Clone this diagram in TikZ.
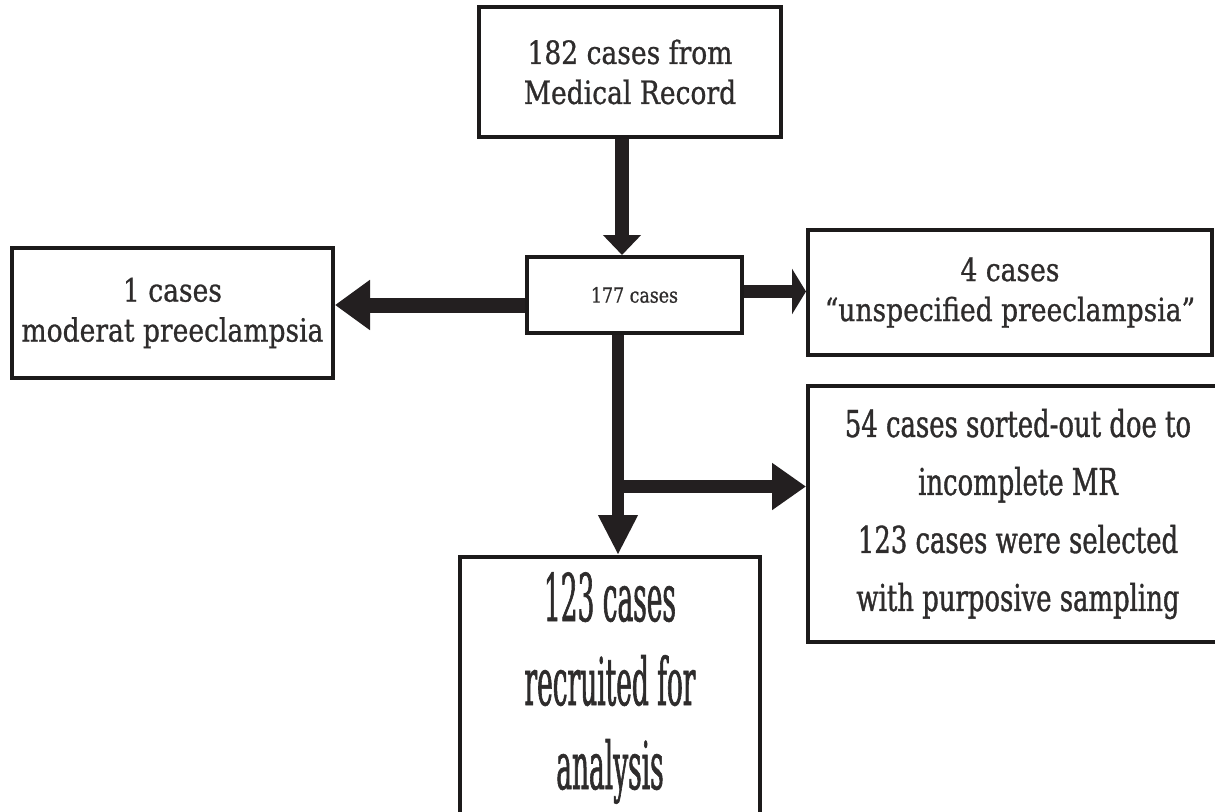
\documentclass[tikz,border=0pt]{standalone}
\usepackage{fontspec}
\usetikzlibrary{arrows.meta}
\newfontfamily\fontA[FakeStretch=0.83,FakeBold=0.8]{DejaVu Serif}
\newfontfamily\fontB[FakeStretch=0.70,FakeBold=1.0]{DejaVu Serif}
\newfontfamily\fontC[FakeStretch=0.40,FakeBold=0.9]{DejaVu Serif}
\definecolor{boxc}{HTML}{1C1A1A}
\definecolor{arrc}{HTML}{231F20}
\definecolor{textc}{HTML}{2E2C2C}
\tikzset{
  box/.style={draw=boxc, line width=4pt, inner sep=0pt, align=center, text=textc},
  fA/.style={font=\fontA\fontsize{32}{40}\selectfont},
  fB/.style={font=\fontB\fontsize{37}{58}\selectfont},
  fC/.style={font=\fontC\fontsize{66}{84}\selectfont},
  fmid/.style={font=\fontA\fontsize{21}{25}\selectfont},
  conn/.style={draw=arrc, line width=#1},
}
\begin{document}
\begin{tikzpicture}[x=1pt,y=-1pt]
\useasboundingbox (0,0) rectangle (1215,811);
\node[box,fA,minimum width=302pt,minimum height=130pt] (A) at (630,72) {182 cases from\\Medical Record};
\node[box,fmid,minimum width=215pt,minimum height=76pt] (mid) at (634.5,295) {177 cases};
\node[box,fA,minimum width=321pt,minimum height=130pt] (L) at (172.5,313) {1 cases\\moderat preeclampsia};
\node[box,fA,minimum width=404pt,minimum height=125pt] (R4) at (1010,292.5) {4 cases\\“unspecified preeclampsia”};
\node[box,fB,minimum width=420pt,minimum height=256pt] (R54) at (1018,514) {54 cases sorted-out doe to\\incomplete MR\\123 cases were selected\\with purposive sampling};
\node[box,fC,minimum width=300pt,minimum height=262pt] (B) at (610,688) {123 cases\\recruited for\\analysis};
\coordinate (x1) at (622,0);
\coordinate (y2) at (0,305);
\coordinate (y3) at (0,291.5);
\coordinate (x4) at (618,0);
\coordinate (y5) at (0,486.5);
\draw[conn=14pt, -{Triangle[length=20pt,width=37pt]}] (A.south -| x1) -- (mid.north -| x1);
\draw[conn=15pt, -{Triangle[length=35pt,width=48pt]}] (mid.west |- y2) -- (L.east |- y2);
\draw[conn=13pt, -{Triangle[length=14pt,width=45pt]}] (mid.east |- y3) -- (R4.west |- y3);
\draw[conn=12pt, -{Triangle[length=40pt,width=37pt]}] (mid.south -| x4) -- (B.north -| x4);
\draw[conn=13pt, -{Triangle[length=34pt,width=45pt]}] (x4 |- y5) -- (R54.west |- y5);
\end{tikzpicture}
\end{document}
